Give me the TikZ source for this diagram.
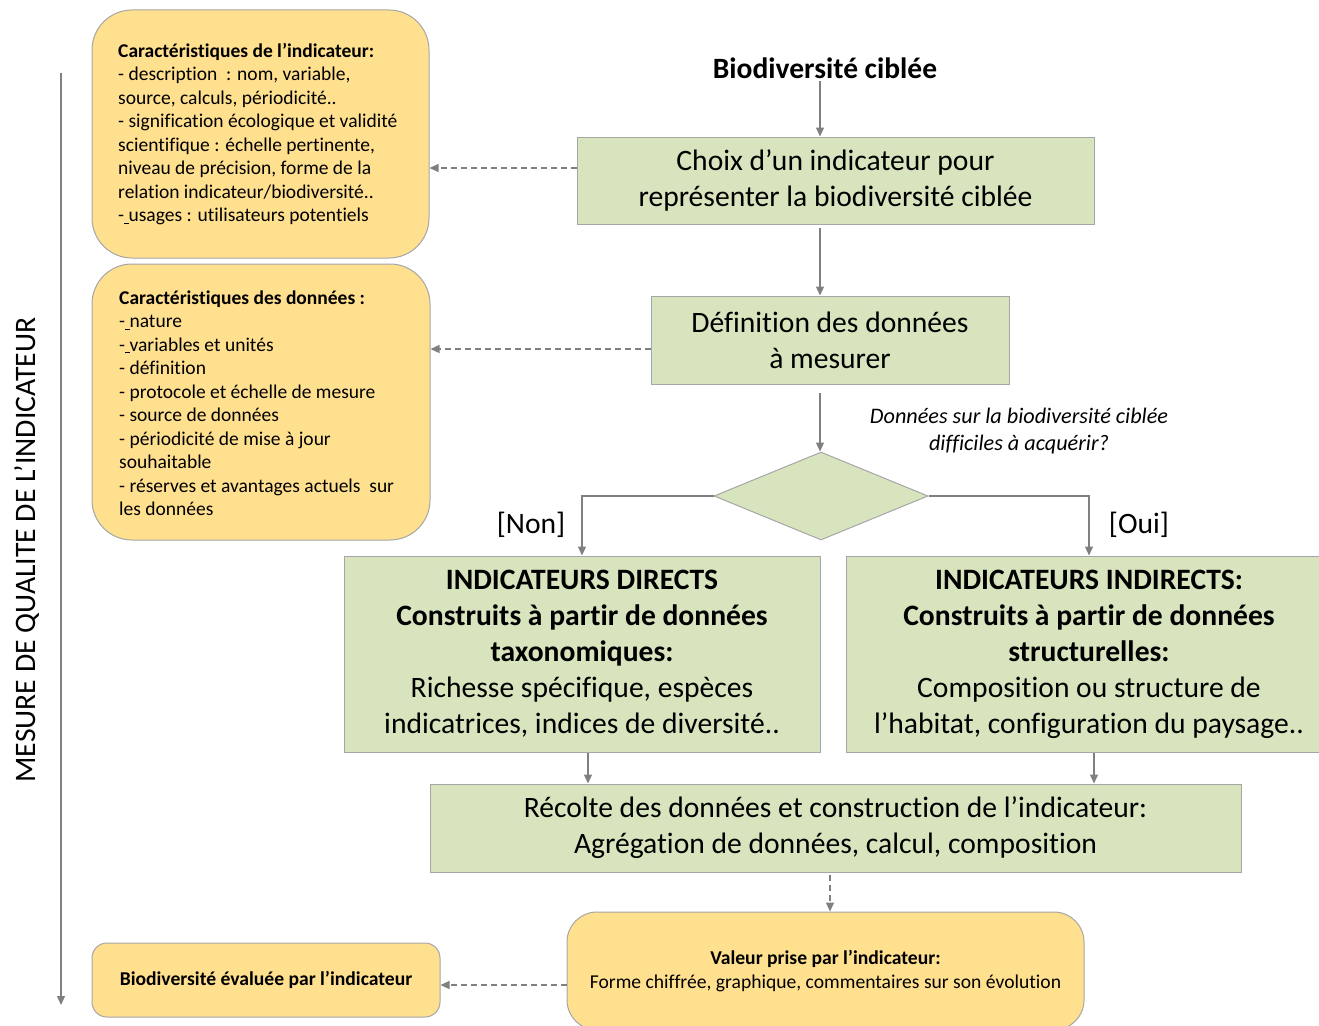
\documentclass[tikz,border=0pt]{standalone}
\usepackage{fontspec}
\setmainfont{Carlito}[Ligatures=NoCommon]
\usetikzlibrary{arrows.meta,shapes.geometric}
\definecolor{boxgreen}{HTML}{D7E4BD}
\definecolor{boxgold}{HTML}{FFE08F}
\definecolor{linegray}{HTML}{808080}
\definecolor{bordergray}{HTML}{A6A6A6}
\begin{document}
\begin{tikzpicture}[x=1pt,y=-1pt,
 gbox/.style={draw=bordergray,fill=boxgreen,line width=1pt,inner sep=0pt,align=center,font=\fontsize{29.6}{36}\selectfont},
 obox/.style={draw=bordergray,fill=boxgold,line width=1pt,inner sep=0pt},
 arr/.style={draw=linegray,line width=1.3pt,-{Triangle[length=9pt,width=8pt]}},
 darr/.style={arr,dash pattern=on 6pt off 4pt},
 smalltxt/.style={align=left,inner sep=0pt,font=\fontsize{19.5}{23.5}\selectfont},
]
\useasboundingbox (0,0) rectangle (1319,1025);

% vertical axis
\coordinate (vtop) at (61,73);
\coordinate (vbot) at (61,1005);
\draw[arr] (vtop) -- (vbot);
\node[rotate=90,font=\fontsize{29.7}{34}\selectfont,inner sep=0pt] (vlabel) at (27,550) {MESURE DE QUALITE DE L’INDICATEUR};

% left boxes
\node[obox,rounded corners=40pt,minimum width=337pt,minimum height=248pt] (ind) at (260.5,134) {};
\node[smalltxt,anchor=west] (indtxt) at (118,134) {\textbf{Caractéristiques de l’indicateur:}\\
- description~ : nom, variable,\\
source, calculs, périodicité..\\
- signification écologique et validité\\
scientifique : échelle pertinente,\\
niveau de précision, forme de la\\
relation indicateur/biodiversité..\\
-\underline{\ }usages : utilisateurs potentiels};

\node[obox,rounded corners=40pt,minimum width=338pt,minimum height=276pt] (dat) at (261,402) {};
\node[smalltxt,anchor=west] (dattxt) at (119,403) {\textbf{Caractéristiques des données :}\\
-\underline{\ }nature\\
-\underline{\ }variables et unités\\
- définition\\
- protocole et échelle de mesure\\
- source de données\\
- périodicité de mise à jour\\
souhaitable\\
- réserves et avantages actuels~ sur\\
les données};

% main flow
\coordinate (axis) at (820,0);
\node[font=\bfseries\fontsize{29.5}{34}\selectfont,inner sep=0pt] (title) at (825,68) {Biodiversité ciblée};
\node[gbox,minimum width=517pt,minimum height=87pt] (choix) at (835.5,180.5) {Choix d’un indicateur pour\\représenter la biodiversité ciblée};
\node[gbox,minimum width=358pt,minimum height=88pt] (def) at (830,340) {Définition des données\\à mesurer};
\node[diamond,draw=bordergray,fill=boxgreen,line width=1pt,inner sep=0pt,minimum width=214pt,minimum height=88pt] (dia) at (821,496) {};
\node[font=\itshape\fontsize{22.2}{27}\selectfont,align=center,inner sep=0pt] (quest) at (1019,431) {Données sur la biodiversité ciblée\\difficiles à acquérir?};
\node[font=\fontsize{29.6}{34}\selectfont,inner sep=0pt] (non) at (531,525) {[Non]};
\node[font=\fontsize{29.6}{34}\selectfont,inner sep=0pt] (oui) at (1139,525) {[Oui]};

\node[gbox,minimum width=476pt,minimum height=196pt] (dir) at (582,654) {\textbf{INDICATEURS DIRECTS}\\\textbf{Construits à partir de données}\\\textbf{taxonomiques:}\\Richesse spécifique, espèces\\indicatrices, indices de diversité..};
\node[gbox,minimum width=486pt,minimum height=196pt] (indir) at (1089,654) {\textbf{INDICATEURS INDIRECTS:}\\\textbf{Construits à partir de données}\\\textbf{structurelles:}\\Composition ou structure de\\l’habitat, configuration du paysage..};

\node[gbox,minimum width=811pt,minimum height=88pt] (rec) at (835.5,828) {Récolte des données et construction de l’indicateur:\\Agrégation de données, calcul, composition};

\node[obox,rounded corners=30pt,minimum width=517pt,minimum height=118pt,align=center,font=\fontsize{19.6}{24}\selectfont] (val) at (825.5,971) {\textbf{Valeur prise par l’indicateur:}\\Forme chiffrée, graphique, commentaires sur son évolution};
\node[obox,rounded corners=15pt,minimum width=348pt,minimum height=74pt,font=\bfseries\fontsize{19.6}{24}\selectfont] (eval) at (266,980) {Biodiversité évaluée par l’indicateur};

% connectors
\coordinate (c1) at (588,0);
\coordinate (c2) at (1094,0);
\coordinate (c3) at (830,0);
\coordinate (c4) at (0,985);
\coordinate (c5) at (0,168);
\coordinate (c6) at (0,349);

\draw[arr,shorten <=2pt] (title.south -| axis) -- (choix.north -| axis);
\draw[arr,shorten <=3pt] (choix.south -| axis) -- (def.north -| axis);
\draw[arr,shorten <=8pt] (def.south -| axis) -- (dia.north -| axis);
\draw[arr] (dia.west) -| (dir.north);
\draw[arr] (dia.east) -| (indir.north);
\draw[arr] (dir.south -| c1) -- (rec.north -| c1);
\draw[arr] (indir.south -| c2) -- (rec.north -| c2);
\draw[darr,shorten <=2pt] (rec.south -| c3) -- (val.north -| c3);
\draw[darr] (val.west |- c4) -- (eval.east |- c4);
\draw[darr] (choix.west |- c5) -- (ind.east |- c5);
\draw[darr] (def.west |- c6) -- (dat.east |- c6);
\end{tikzpicture}
\end{document}
